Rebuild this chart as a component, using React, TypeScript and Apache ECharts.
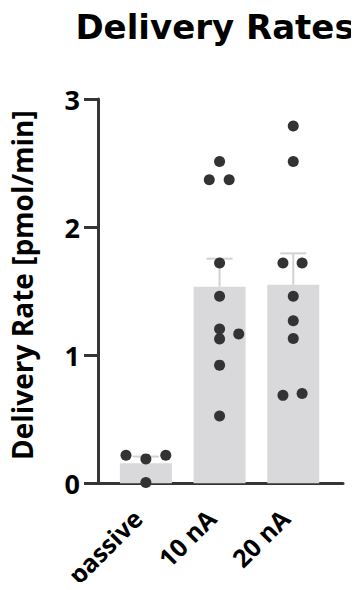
import React, { useEffect, useRef } from "react";
import * as echarts from "echarts";

const categories = ["passive", "10 nA", "20 nA"];
const meanValues = [0.156, 1.535, 1.55];
const semTopValues = [0.208, 1.753, 1.795];
const yTicks = [0, 1, 2, 3];

// [x offset within category, value]
const passivePoints = [
  [-0.27, 0.218],
  [0, 0.19],
  [0.27, 0.218],
  [0, 0.005],
];
const nA10Points = [
  [0, 2.512],
  [-0.14, 2.369],
  [0.13, 2.369],
  [0, 1.72],
  [0, 1.46],
  [0, 1.205],
  [0, 1.127],
  [0.26, 1.166],
  [0, 0.922],
  [0, 0.525],
];
const nA20Points = [
  [0, 2.79],
  [0, 2.512],
  [-0.14, 1.72],
  [0.12, 1.72],
  [0, 1.46],
  [0, 1.268],
  [0, 1.13],
  [-0.14, 0.686],
  [0.12, 0.701],
];

const groups = [passivePoints, nA10Points, nA20Points];

export default function App() {
  const ref = useRef<HTMLDivElement>(null);
  useEffect(() => {
    if (!ref.current) return;
    const chart = echarts.init(ref.current, null, { renderer: "svg" });
    const scatterData: number[][] = [];
    groups.forEach((pts, gi) => {
      pts.forEach(([dx, v]) => scatterData.push([gi + dx, v]));
    });
    const axisColor = "#353535";
    const option: any = {
      animation: false,
      backgroundColor: "#ffffff",
      graphic: [
        {
          type: "text",
          x: 215,
          y: 10,
          style: {
            text: "Delivery Rates",
            fontFamily: "DejaVu Sans",
            fontWeight: "bold",
            fontSize: 34,
            fill: "#000",
            textAlign: "center",
            textVerticalAlign: "top",
          },
        },
      ],
      grid: { left: 86, right: 16, top: 99, bottom: 106, containLabel: false },
      xAxis: {
        type: "value",
        min: -0.65,
        max: 2.675,
        splitLine: { show: false },
        axisTick: { show: false },
        axisLine: { show: true, onZero: false, lineStyle: { color: axisColor, width: 3 } },
        axisLabel: {
          customValues: [0, 1, 2],
          formatter: (v: number) => categories[Math.round(v)] ?? "",
          rotate: 45,
          margin: 22,
          padding: [0, 12, 0, 0],
          fontFamily: "Open Sans",
          fontWeight: "bold",
          fontSize: 25,
          color: "#000",
        },
      },
      yAxis: {
        type: "value",
        min: 0,
        max: 3,
        interval: 1,
        splitLine: { show: false },
        axisLine: { show: true, onZero: false, lineStyle: { color: axisColor, width: 3 } },
        axisTick: { show: true, length: 14, lineStyle: { color: axisColor, width: 3 } },
        axisLabel: {
          margin: 18,
          fontFamily: "Open Sans",
          fontWeight: "bold",
          fontSize: 27,
          color: "#000",
          formatter: (v: number) => (yTicks.includes(v) ? String(v) : ""),
        },
        name: "Delivery Rate [pmol/min]",
        nameLocation: "middle",
        nameGap: 62,
        nameTextStyle: {
          fontFamily: "Open Sans",
          fontWeight: "bold",
          fontSize: 28,
          color: "#000",
          padding: [0, 0, 0, 12],
        },
      },
      series: [
        {
          type: "bar",
          data: meanValues.map((v, i) => [i, v]),
          barWidth: 52,
          itemStyle: { color: "#d9d9db" },
          z: 1,
        },
        {
          type: "custom",
          data: meanValues.map((v, i) => [i, v, semTopValues[i]]),
          renderItem: (params: any, api: any) => {
            const x = api.value(0);
            const base = api.coord([x, api.value(1)]);
            const top = api.coord([x, api.value(2)]);
            const half = 13;
            return {
              type: "group",
              children: [
                {
                  type: "line",
                  shape: { x1: base[0], y1: base[1], x2: top[0], y2: top[1] },
                  style: { stroke: "#d2d2d2", lineWidth: 2 },
                },
                {
                  type: "line",
                  shape: { x1: top[0] - half, y1: top[1], x2: top[0] + half, y2: top[1] },
                  style: { stroke: "#d2d2d2", lineWidth: 2 },
                },
              ],
            };
          },
          z: 2,
        },
        {
          type: "scatter",
          data: scatterData,
          symbolSize: 11,
          itemStyle: { color: "#333333", opacity: 1 },
          z: 3,
        },
      ],
    };
    chart.setOption(option);
    return () => chart.dispose();
  }, []);
  return <div ref={ref} style={{ width: 359, height: 590, margin: -8 }} />;
}
